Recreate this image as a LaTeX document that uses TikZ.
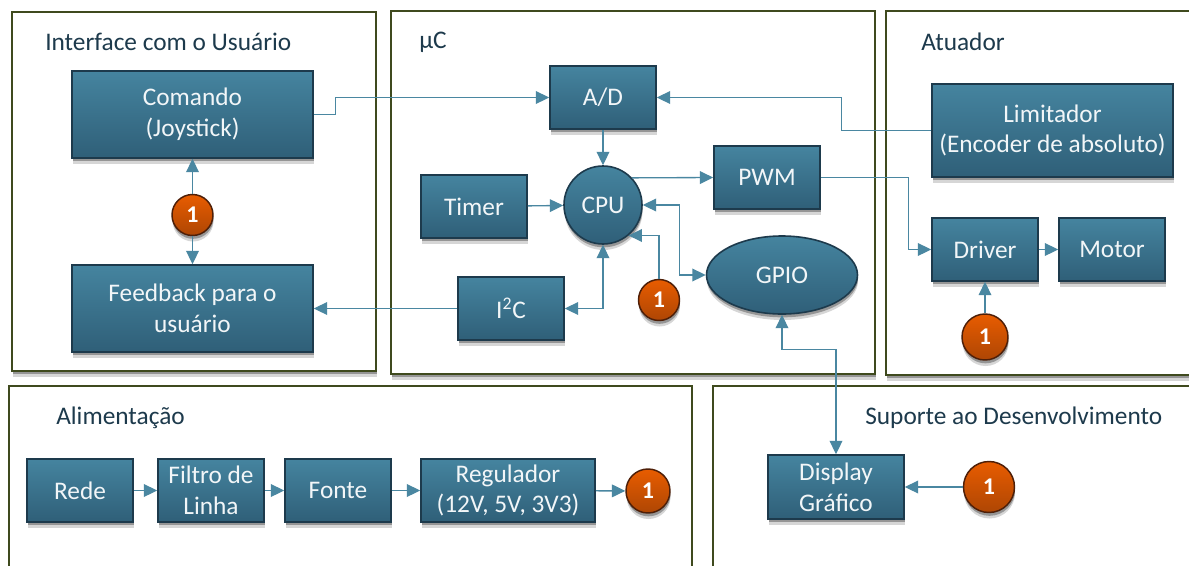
\documentclass[tikz,border=0pt]{standalone}
\usepackage{fontspec}
\setmainfont{Carlito}
\usepackage{xcolor}
\usetikzlibrary{arrows.meta,shadows,shapes.geometric}

\definecolor{azultopo}{HTML}{45849F}
\definecolor{azulbase}{HTML}{2F5F78}
\definecolor{azulborda}{HTML}{1D3A4C}
\definecolor{azulliga}{HTML}{4A87A1}
\definecolor{verdeborda}{HTML}{3F4A1E}
\definecolor{laranjatopo}{HTML}{E85C00}
\definecolor{laranjabase}{HTML}{AE4604}
\definecolor{laranjaborda}{HTML}{4E1F08}

\tikzset{
  sombra/.style={drop shadow={shadow xshift=0.4pt, shadow yshift=-4.5pt, opacity=0.16, fill=black}, drop shadow={shadow xshift=0.4pt, shadow yshift=-2.5pt, opacity=0.3, fill=black}},
  painel/.style 2 args={draw=verdeborda, line width=1.6pt, fill=white, inner sep=0pt, minimum width=#1*0.75pt, minimum height=#2*0.75pt, sombra},
  titulo/.style={anchor=west, inner sep=0pt, text=azulborda, font=\fontsize{19}{23}\selectfont},
  bloco/.style 2 args={draw=azulborda, line width=1.2pt, top color=azultopo, bottom color=azulbase, text=white!93!azultopo, align=center, inner sep=0pt, minimum width=#1*0.75pt, minimum height=#2*0.75pt, font=\fontsize{19}{23}\selectfont, sombra},
  redondo/.style={bloco={#1}{#1}, circle},
  oval/.style 2 args={bloco={#1}{#2}, ellipse},
  selo/.style={circle, draw=laranjaborda, line width=1.1pt, top color=laranjatopo, bottom color=laranjabase, text=white, inner sep=0pt, minimum size=#1*0.75pt, font=\fontsize{18}{18}\selectfont\bfseries, sombra},
  liga/.style={draw=azulliga, line width=1pt, >={Triangle[length=10pt,width=9.5pt]}},
}

\begin{document}
\begin{tikzpicture}[x=0.75pt, y=-0.75pt]
\useasboundingbox (0,0) rectangle (1189,565);
\clip (0,0) rectangle (1189,565);
% paineis
\node[painel={364}{359}] (pUsuario) at (194,191.5) {};
\node[painel={484}{363}] (pMicro) at (633,192.5) {};
\node[painel={320}{364}] (pAtuador) at (1046,193) {};
\node[painel={683}{200}] (pAlim) at (350.5,486) {};
\node[painel={500}{200}] (pSuporte) at (963,486) {};
\node[titulo] (tUsuario) at (45,42) {Interface com o Usuário};
\node[titulo] (tMicro) at (419,42) {µC};
\node[titulo] (tAtuador) at (921,42) {Atuador};
\node[titulo] (tAlim) at (56,418) {Alimentação};
\node[titulo] (tSuporte) at (865,418) {Suporte ao Desenvolvimento};
% interface com o usuario
\node[bloco={241}{87}] (comando) at (192.5,114.5) {Comando\\(Joystick)};
\node[bloco={241}{87}] (feedback) at (192.5,308.5) {Feedback para o\\usuário};
\node[selo=41] (seloA) at (192.5,215) {1};
% microcontrolador
\node[bloco={106}{63}] (ad) at (603,97.5) {A/D};
\node[bloco={106}{63}] (pwm) at (767,177.5) {PWM};
\node[bloco={106}{63}] (timer) at (474,206.5) {Timer};
\node[bloco={106}{63}] (i2c) at (511,308.5) {I\textsuperscript{2}C};
\node[redondo=78] (cpu) at (603,205) {CPU};
\node[oval={151}{78}] (gpio) at (782,275) {GPIO};
\node[selo=41] (seloB) at (659,300) {1};
% atuador
\node[bloco={241}{93}] (limitador) at (1052.5,130.5) {Limitador\\(Encoder de absoluto)};
\node[bloco={106}{63}] (driver) at (985,249.5) {Driver};
\node[bloco={106}{63}] (motor) at (1112,249.5) {Motor};
\node[selo=46] (seloC) at (985,337) {1};
% alimentacao
\node[bloco={106}{63}] (rede) at (80,490.5) {Rede};
\node[bloco={106}{63}] (filtro) at (211,490.5) {Filtro de\\Linha};
\node[bloco={106}{63}] (fonte) at (338,490.5) {Fonte};
\node[bloco={174}{63}] (regulador) at (508,490.5) {Regulador\\(12V, 5V, 3V3)};
\node[selo=44] (seloD) at (648,491) {1};
% suporte
\node[bloco={136}{64}] (display) at (836,487) {Display\\Gráfico};
\node[selo=51] (seloE) at (989,487) {1};
% ligacoes
\draw[liga,->] (seloA) -- (comando);
\draw[liga,->] (seloA) -- (feedback);
\draw[liga,->] (comando.east) -- ++(22,0) |- (ad.west);
\draw[liga,->] (limitador.west) -- ++(-90,0) |- (ad.east);
\draw[liga,->] (ad) -- (cpu);
\draw[liga,->] (timer) -- (cpu);
\draw[liga,->] (cpu.43) -- (pwm.west);
\draw[liga,<->] (cpu.east) -- ++(37,0) |- (gpio.west);
\draw[liga,->] (seloB.north) |- (cpu.-50);
\draw[liga,<->] (i2c.east) -| (cpu.south);
\draw[liga,->] (i2c) -- (feedback);
\draw[liga,<->] (gpio.south) -- ++(0,35) -| (display.north);
\draw[liga,->] (pwm.east) -- ++(88,0) |- (driver.west);
\draw[liga,->] (driver) -- (motor);
\draw[liga,->] (seloC) -- (driver);
\draw[liga,->] (rede) -- (filtro);
\draw[liga,->] (filtro) -- (fonte);
\draw[liga,->] (fonte) -- (regulador);
\draw[liga,->] (regulador) -- (seloD);
\draw[liga,->] (seloE) -- (display);
\end{tikzpicture}
\end{document}
